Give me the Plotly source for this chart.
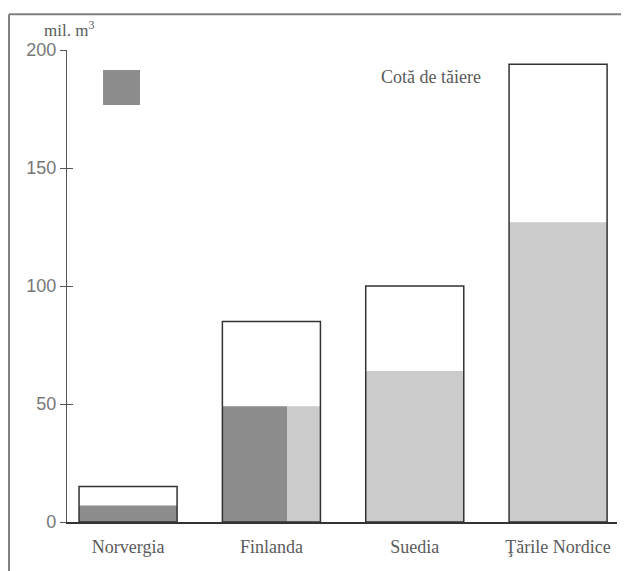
import plotly.graph_objects as go

categories = ["Norvergia", "Finlanda", "Suedia", "Ţările Nordice"]
total_values = [15, 85, 100, 194]          # Cotă de tăiere (outlined bars)
dark_values = [7, 49, None, None]          # dark grey part
light_values = [None, 49, 64, 127]         # light grey part
y_ticks = [0, 50, 100, 150, 200]

BW = 0.684
DARK_SPLIT = 0.454  # width of the dark part of the Finland bar

dark_cats = [c for c, v in zip(categories, dark_values) if v is not None]
dark_vals = [v for v in dark_values if v is not None]
dark_w = [BW if c != "Finlanda" else DARK_SPLIT for c in dark_cats]
dark_off = [-BW / 2 for _ in dark_cats]

light_cats = [c for c, v in zip(categories, light_values) if v is not None]
light_vals = [v for v in light_values if v is not None]
light_w = [BW - DARK_SPLIT if c == "Finlanda" else BW for c in light_cats]
light_off = [-BW / 2 + DARK_SPLIT if c == "Finlanda" else -BW / 2 for c in light_cats]

DARK = "#8d8d8d"
LIGHT = "#cbcbcb"
INK = "#333333"
TXT = "#5a5a5a"

fig = go.Figure()
fig.add_trace(go.Bar(x=dark_cats, y=dark_vals, width=dark_w, offset=dark_off,
                     marker=dict(color=DARK, line=dict(width=0)), showlegend=False))
fig.add_trace(go.Bar(x=light_cats, y=light_vals, width=light_w, offset=light_off,
                     marker=dict(color=LIGHT, line=dict(width=0)), showlegend=False))
fig.add_trace(go.Bar(x=categories, y=total_values, width=BW, offset=-BW / 2,
                     marker=dict(color="rgba(0,0,0,0)", line=dict(color=INK, width=1.5)),
                     showlegend=False))
fig.add_trace(go.Scatter(x=[categories[0]], y=[0], yaxis="y2", mode="markers",
                         marker=dict(opacity=0), showlegend=False, hoverinfo="skip"))

fig.update_layout(
    width=629, height=571,
    margin=dict(l=59, r=20, t=42, b=57),
    paper_bgcolor="white", plot_bgcolor="white",
    barmode="overlay",
    xaxis=dict(range=[-0.426, 3.411], showline=True, linecolor=INK, linewidth=1.5,
               ticks="", showgrid=False, zeroline=False, ticklabelstandoff=8,
               tickfont=dict(family="Liberation Serif", size=18, color=TXT)),
    yaxis=dict(range=[0, 200], tickvals=y_ticks, showline=True, linecolor="#555", linewidth=1.2,
               ticks="outside", ticklen=6, tickcolor="#555", showgrid=False, zeroline=False,
               tickfont=dict(family="Liberation Sans", size=18, color="#777777")),
    yaxis2=dict(range=[0, 200], tickvals=y_ticks, overlaying="y", side="left",
                ticks="inside", ticklen=6, tickcolor="#555", showticklabels=False,
                showgrid=False, zeroline=False, showline=False),
    font=dict(family="Liberation Serif", color=TXT),
)

# legend square and label
fig.add_shape(type="rect", xref="paper", yref="paper", x0=0.0655, x1=0.1327, y0=0.8835, y1=0.9576,
              fillcolor=DARK, line=dict(width=0))
fig.add_annotation(text="Cotă de tăiere", xref="paper", yref="paper", x=0.662, y=0.943,
                   xanchor="center", yanchor="middle", showarrow=False,
                   font=dict(family="Liberation Serif", size=18, color=TXT))
fig.add_annotation(text="mil. m<sup>3</sup>", xref="paper", yref="paper", x=-0.045, y=1.017,
                   xanchor="left", yanchor="bottom", showarrow=False,
                   font=dict(family="Liberation Serif", size=17, color=TXT))

# outer frame (top and left)
fig.add_shape(type="line", xref="paper", yref="paper", x0=-0.1055, x1=1.04, y0=1.076, y1=1.076,
              line=dict(color="#808080", width=2))
fig.add_shape(type="line", xref="paper", yref="paper", x0=-0.1055, x1=-0.1055, y0=-0.125, y1=1.076,
              line=dict(color="#808080", width=2))

fig.write_html("out.html")
